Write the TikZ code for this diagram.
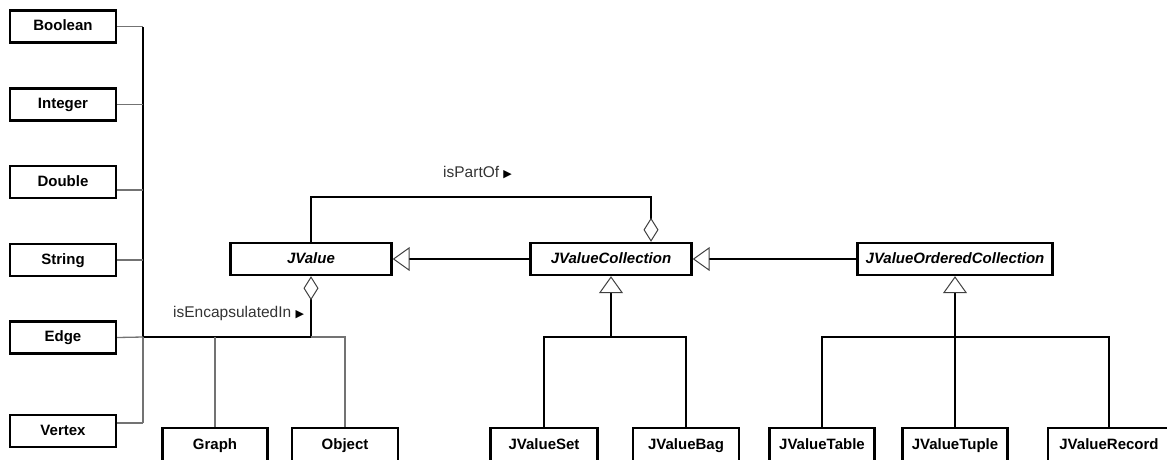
\documentclass[tikz,border=0pt]{standalone}
\usepackage{fontspec}
\setmainfont{Liberation Sans}
\newfontfamily\symfont{DejaVu Sans}
\usetikzlibrary{arrows.meta}
\tikzset{
  cls/.style={draw=black, line width=2.4pt, fill=white, minimum height=32pt,
    inner sep=0pt, text height=11pt, text depth=3pt,
    font=\bfseries\fontsize{15}{18}\selectfont},
  abscls/.style={cls, font=\bfseries\itshape\fontsize{15}{18}\selectfont},
  leaf/.style={cls, minimum height=34pt},
  link/.style={draw=black, line width=2.2pt},
  thinlink/.style={draw=black!55, line width=1.3pt},
  gen/.style={link, -{Triangle[open, length=17pt, width=24pt, line width=1pt, color=black!75]}},
  agg/.style={link, -{Diamond[open, length=24pt, width=15pt, line width=1pt, color=black!75]}},
  role/.style={text=black!80, inner sep=0pt, font=\fontsize{15.5}{18}\selectfont},
}
\begin{document}
\begin{tikzpicture}[x=1pt, y=-1pt]
\useasboundingbox (0,0) rectangle (1167,459);
\clip (0,0) rectangle (1167,459);

% primitive value types
\node[cls, minimum width=106pt] (bool) at (63,26.5)  {Boolean};
\node[cls, minimum width=106pt] (int)  at (63,104.5) {Integer};
\node[cls, minimum width=106pt] (dbl)  at (63,182)   {Double};
\node[cls, minimum width=106pt] (str)  at (63,260)   {String};
\node[cls, minimum width=106pt] (edge) at (63,337.5) {Edge};
\node[cls, minimum width=106pt] (vtx)  at (63,431)   {Vertex};
\node[leaf, minimum width=105pt] (graph) at (215,445) {Graph};
\node[leaf, minimum width=106pt] (obj)   at (345,445)   {Object};

% abstract value classes
\node[abscls, minimum width=161pt] (jv)   at (311,259) {JValue};
\node[abscls, minimum width=161pt] (jvc)  at (611,259) {JValueCollection};
\node[abscls, minimum width=195pt] (jvoc) at (955,259)   {JValueOrderedCollection};

% concrete collections
\node[leaf, minimum width=107pt] (jvs)  at (544,445) {JValueSet};
\node[leaf, minimum width=106pt] (jvb)  at (686,445)   {JValueBag};
\node[leaf, minimum width=105pt] (jvt)  at (822,445) {JValueTable};
\node[leaf, minimum width=105pt] (jvtu) at (955,445)   {JValueTuple};
\node[leaf, minimum width=122pt] (jvr)  at (1109,445)  {JValueRecord};

% junction points
\coordinate (hub)  at (311,337);
\coordinate (bus)  at (143,337);
\coordinate (ptop) at (311,197);
\coordinate (c1)   at (611,337);
\coordinate (c2)   at (955,337);
\coordinate (vstub) at ([yshift=8pt]vtx.east);
\coordinate (dstub) at ([yshift=-8pt]dbl.east);

% isEncapsulatedIn
\draw[agg] (hub) -- (jv.south);
\draw[link] (hub) -- (bus) -- (bus |- bool.east);
\draw[thinlink] (bus) -- (bus |- vstub);
\draw[thinlink] (bool.east) -- (bool.east -| bus);
\draw[thinlink] (int.east) -- (int.east -| bus);
\draw[thinlink] (dstub) -- (dstub -| bus);
\draw[thinlink] (str.east) -- (str.east -| bus);
\draw[thinlink] (edge.east) -- (bus);
\draw[thinlink] (vstub) -- (vstub -| bus);
\draw[thinlink] (graph.north) -- (graph.north |- hub);
\draw[thinlink] (hub) -| (obj.north);
\node[role, anchor=west] (encl) at (173,313) {isEncapsulatedIn {\symfont\color{black}\fontsize{11}{11}\selectfont ▶}};

% isPartOf
\draw[agg] (jv.north) -- (ptop) -| ([xshift=40pt]jvc.north);
\node[role, anchor=west] (partl) at (443,173) {isPartOf {\symfont\color{black}\fontsize{11}{11}\selectfont ▶}};

% generalisations
\draw[gen] (jvc.west) -- (jv.east);
\draw[gen] (jvoc.west) -- (jvc.east);
\draw[gen] (c1) -- (jvc.south);
\draw[link] (jvs.north) |- (c1) -| (jvb.north);
\draw[gen] (c2) -- (jvoc.south);
\draw[link] (jvt.north) |- (c2) -| (jvr.north);
\draw[link] (jvtu.north) -- (c2);
\end{tikzpicture}
\end{document}
